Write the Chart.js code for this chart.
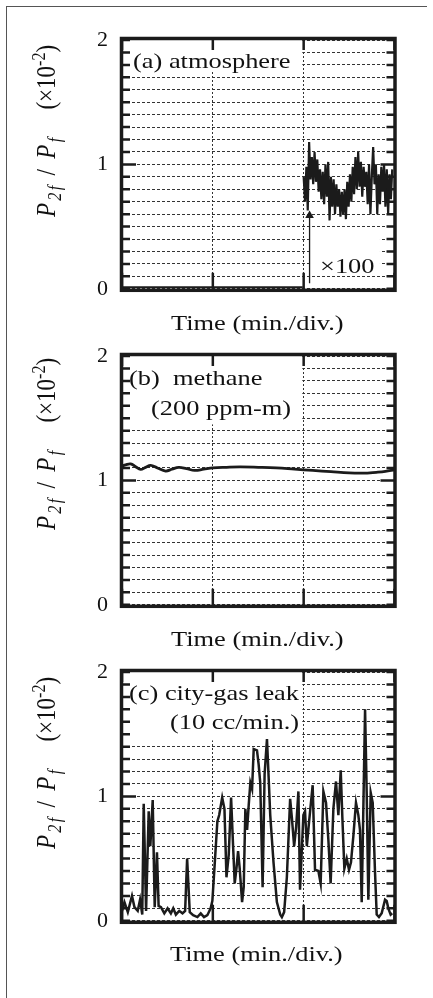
<!DOCTYPE html>
<html>
<head>
<meta charset="utf-8">
<script src="https://cdn.jsdelivr.net/npm/chart.js@4.4.1/dist/chart.umd.min.js"></script>
<style>
  body { margin: 0; width: 433px; height: 998px; background: #fff; position: relative; overflow: hidden;
         font-family: 'Liberation Serif', 'Times New Roman', serif; color: #111; }
  canvas { position: absolute; left: 0; }
  .frame { position: absolute; left: 6px; top: 6px; width: 420px; height: 1000px;
           border-left: 1.5px solid #555; border-top: 1.5px solid #555; }
  .t { position: absolute; font-size: 22px; line-height: 22px; white-space: pre;
       transform-origin: 0 0; transform: scaleX(1.2); }
  .ylab { position: absolute; font-size: 23px; line-height: 22px; white-space: nowrap;
          transform-origin: 0 0; transform: rotate(-90deg) scaleY(1.15); }
  .ylab .ps { letter-spacing: 2.3px; }
  .ylab .gap { display: inline-block; width: 26px; }
  sub, sup { font-size: 70%; line-height: 0; }
</style>
</head>
<body>
<div class="frame"></div>

<canvas id="pa" width="433" height="316" style="top:0px"></canvas>
<canvas id="pb" width="433" height="316" style="top:316px"></canvas>
<canvas id="pc" width="433" height="316" style="top:632px"></canvas>

<!-- y axis titles -->
<div class="ylab" style="left:34px;top:217px"><span class="ps"><i>P</i><sub><i>2f</i></sub> / <i>P</i><sub><i>f</i></sub></span><span class="gap"></span>(×10<sup>-2</sup>)</div>
<div class="ylab" style="left:34px;top:530px"><span class="ps"><i>P</i><sub><i>2f</i></sub> / <i>P</i><sub><i>f</i></sub></span><span class="gap"></span>(×10<sup>-2</sup>)</div>
<div class="ylab" style="left:34px;top:849px"><span class="ps"><i>P</i><sub><i>2f</i></sub> / <i>P</i><sub><i>f</i></sub></span><span class="gap"></span>(×10<sup>-2</sup>)</div>

<!-- panel notes -->
<div class="t" style="left:133px;top:50px">(a) atmosphere</div>
<div class="t" style="left:320px;top:255px">×100</div>
<div class="t" style="left:171px;top:312px">Time (min./div.)</div>

<div class="t" style="left:129px;top:367px">(b)  methane</div>
<div class="t" style="left:151px;top:397px">(200 ppm-m)</div>
<div class="t" style="left:171px;top:628px">Time (min./div.)</div>

<div class="t" style="left:129px;top:682px">(c) city-gas leak</div>
<div class="t" style="left:170px;top:711px">(10 cc/min.)</div>
<div class="t" style="left:170px;top:943px">Time (min./div.)</div>

<script>
// time axis: 100 units = 1 division, 3 divisions shown
const divWidth = 100;
const yLabelValues = [0, 1, 2];

// (a) atmosphere: baseline, then the x100 trace
const aBaseTime = [0, 199];
const aBaseVal = [0.012, 0.012];
const aTime = [200, 201.5, 203, 204.5, 206, 207.5, 209, 210.5, 212, 213.5, 215, 216.5, 218, 219.5, 221, 222.5,
  224, 225.5, 227, 228.5, 230, 231.5, 233, 234.5, 236, 237.5, 239, 240.5, 242, 243.5, 245, 246.5, 248, 249.5,
  251, 252.5, 254, 255.5, 257, 258.5, 260, 261.5, 263, 264.5, 266, 267.5, 269, 270.5, 272, 273.5, 275, 276.5,
  278, 279.5, 281, 282.5, 284, 285.5, 287, 288.5, 290, 291.5, 293, 294.5, 296, 297.5];
const aVal = [0.9, 0.7, 0.98, 0.63, 1.18, 0.88, 1.06, 0.84, 1.1, 0.86, 1.04, 0.78, 0.96, 0.72, 0.94, 0.68,
  1.0, 0.74, 1.02, 0.55, 0.9, 0.66, 0.88, 0.6, 0.84, 0.66, 0.8, 0.58, 0.78, 0.6, 0.8, 0.56, 0.86, 0.66,
  0.92, 0.7, 0.98, 0.76, 1.06, 0.8, 1.1, 0.82, 1.02, 0.74, 0.98, 0.82, 0.94, 0.68, 1.0, 0.6, 0.9, 1.14,
  0.84, 1.0, 0.6, 0.92, 0.68, 0.98, 0.78, 1.0, 0.66, 0.96, 0.6, 0.92, 0.72, 0.96];
const arrowTime = [206.5, 206.5];
const arrowVal = [0.045, 0.59];

// (b) methane 200 ppm-m
const bTime = [0, 4, 9.5, 15, 20.5, 26, 31.5, 39, 48, 55, 62.5, 71, 80, 90, 100, 115, 130, 150, 170, 190,
  210, 230, 250, 265, 280, 290, 300];
const bVal = [1.115, 1.125, 1.133, 1.11, 1.088, 1.105, 1.12, 1.1, 1.075, 1.09, 1.105, 1.095, 1.08, 1.09,
  1.1, 1.105, 1.108, 1.105, 1.1, 1.09, 1.08, 1.07, 1.06, 1.058, 1.065, 1.072, 1.085];

// (c) city-gas leak 10 cc/min.
const cTime = [0, 2.7, 6.4, 11, 13.7, 17.3, 19.9, 22.3, 23.9, 26.5, 29.4, 31.2, 33.8, 36, 38.5, 40.3, 42.9,
  46.6, 50.2, 53.8, 56.4, 59.3, 63, 66.6, 69.5, 71.7, 74.6, 78.3, 83, 86.7, 90.3, 94, 97.6, 99.5, 102, 105,
  107, 110.3, 112.8, 115, 117.5, 120.1, 122.3, 124.1, 126, 127.8, 129.6, 132.2, 134, 135.8, 137.7, 139.5,
  141.3, 143.2, 145, 148.6, 150.4, 152.2, 154.8, 157, 159.6, 161.4, 163.2, 166.8, 170.5, 174.2, 176, 178.5,
  181.5, 185.1, 187, 189.5, 191.7, 194.2, 196, 199.7, 201.5, 203.5, 206, 209.9, 212.5, 216.2, 218.7, 221.7,
  224.6, 227.2, 229.7, 232.7, 235.6, 238.2, 240.8, 242.6, 244.8, 247.4, 249.9, 252.1, 254.7, 257.6, 260.2,
  262, 263.9, 267.6, 269.4, 271.2, 273.8, 276, 278.5, 280.4, 282.9, 285.9, 289.6, 291.4, 293.2, 295.8, 297.5];
const cVal = [0.08, 0.15, 0.07, 0.2, 0.11, 0.08, 0.17, 0.05, 0.94, 0.08, 0.88, 0.6, 0.97, 0.11, 0.55, 0.12,
  0.11, 0.06, 0.1, 0.06, 0.1, 0.05, 0.08, 0.06, 0.08, 0.5, 0.07, 0.045, 0.03, 0.06, 0.03, 0.045, 0.1, 0.16,
  0.45, 0.8, 0.85, 0.99, 0.9, 0.35, 0.53, 0.99, 0.6, 0.3, 0.42, 0.56, 0.42, 0.15, 0.27, 0.9, 0.73, 0.93,
  1.11, 1.06, 1.38, 1.37, 1.26, 1.11, 0.27, 1.18, 1.46, 1.16, 0.85, 0.47, 0.15, 0.05, 0.03, 0.07, 0.35,
  0.98, 0.83, 0.6, 0.75, 1.04, 0.25, 0.85, 0.88, 0.6, 0.8, 1.09, 0.41, 0.4, 0.3, 1.04, 0.95, 0.65, 0.3,
  0.9, 1.12, 0.85, 1.21, 0.83, 0.42, 0.5, 0.41, 0.47, 0.68, 0.95, 0.85, 0.73, 0.15, 1.7, 1.03, 0.17, 1.03,
  0.95, 0.4, 0.05, 0.03, 0.06, 0.17, 0.16, 0.1, 0.05, 0.06];

const ink = '#1b1b1b';
const serif = "'Liberation Serif', 'Times New Roman', serif";

function pts(xs, ys) {
  return xs.map((x, i) => ({ x: x, y: ys[i] }));
}

// white boxes behind the notes, inward ticks and the heavy frame
const deco = {
  id: 'deco',
  beforeDatasetsDraw(chart, args, opts) {
    const { ctx, scales: { x, y } } = chart;
    ctx.save();
    ctx.fillStyle = '#fff';
    (opts.masks || []).forEach(m => {
      const l = x.getPixelForValue(m[0]), r = x.getPixelForValue(m[1]);
      const t = y.getPixelForValue(m[3]), b = y.getPixelForValue(m[2]);
      ctx.fillRect(l, t, r - l, b - t);
    });
    ctx.restore();
  },
  afterDatasetsDraw(chart) {
    const { ctx, chartArea: a, scales: { x, y } } = chart;
    ctx.save();
    ctx.strokeStyle = ink;
    ctx.lineWidth = 2.5;
    ctx.beginPath();
    y.ticks.forEach(t => {
      const py = y.getPixelForValue(t.value);
      const len = Math.abs(t.value - 1) < 1e-6 ? 14 : 8;
      ctx.moveTo(a.left, py); ctx.lineTo(a.left + len, py);
      ctx.moveTo(a.right - len, py); ctx.lineTo(a.right, py);
    });
    x.ticks.forEach(t => {
      const px = x.getPixelForValue(t.value);
      ctx.moveTo(px, a.top); ctx.lineTo(px, a.top + 10);
      ctx.moveTo(px, a.bottom - 16); ctx.lineTo(px, a.bottom);
    });
    ctx.stroke();
    ctx.lineWidth = 3.5;
    ctx.strokeRect(a.left - 0.5, a.top - 1.5, a.right - a.left + 1, a.bottom - a.top + 3);
    ctx.restore();
  }
};

function panel(id, datasets, masks) {
  return new Chart(document.getElementById(id), {
    type: 'line',
    data: { datasets: datasets },
    options: {
      responsive: false,
      animation: false,
      events: [],
      layout: { padding: { top: 40, right: 38.5, left: 0, bottom: 0 } },
      plugins: { legend: { display: false }, tooltip: { enabled: false }, deco: { masks: masks } },
      scales: {
        x: {
          type: 'linear', min: 0, max: 3 * divWidth,
          afterFit: s => { s.height = 12; },
          ticks: { display: false, stepSize: divWidth },
          grid: { color: '#333', lineWidth: 1, drawTicks: false },
          border: { display: false, dash: [2, 2] }
        },
        y: {
          min: 0, max: 2,
          afterFit: s => { s.width = 122; },
          ticks: {
            stepSize: 0.1, autoSkip: false, padding: 14, color: '#111',
            font: { family: serif, size: 22 },
            callback: v => yLabelValues.some(k => Math.abs(k - v) < 1e-6) ? String(Math.round(v)) : ''
          },
          grid: { color: '#333', lineWidth: 1, drawTicks: false },
          border: { display: false, dash: [3, 2] }
        }
      }
    },
    plugins: [deco]
  });
}

const line = { borderColor: ink, pointRadius: 0, fill: false };

panel('pa', [
  Object.assign({ data: pts(aBaseTime, aBaseVal), borderWidth: 2 }, line),
  Object.assign({ data: pts(aTime, aVal), borderWidth: 2.2 }, line),
  { data: pts(arrowTime, arrowVal), borderColor: ink, borderWidth: 1.3, fill: false,
    pointRadius: [0, 5], pointStyle: 'triangle', pointBackgroundColor: ink, pointBorderWidth: 0 }
], [[0, 198.5, 1.75, 2], [209, 284, 0.15, 0.45]]);

panel('pb', [
  Object.assign({ data: pts(bTime, bVal), borderWidth: 2.8, tension: 0.4 }, line)
], [[0, 198.5, 1.45, 2]]);

panel('pc', [
  Object.assign({ data: pts(cTime, cVal), borderWidth: 2.5 }, line)
], [[0, 198.5, 1.45, 2]]);
</script>
</body>
</html>
